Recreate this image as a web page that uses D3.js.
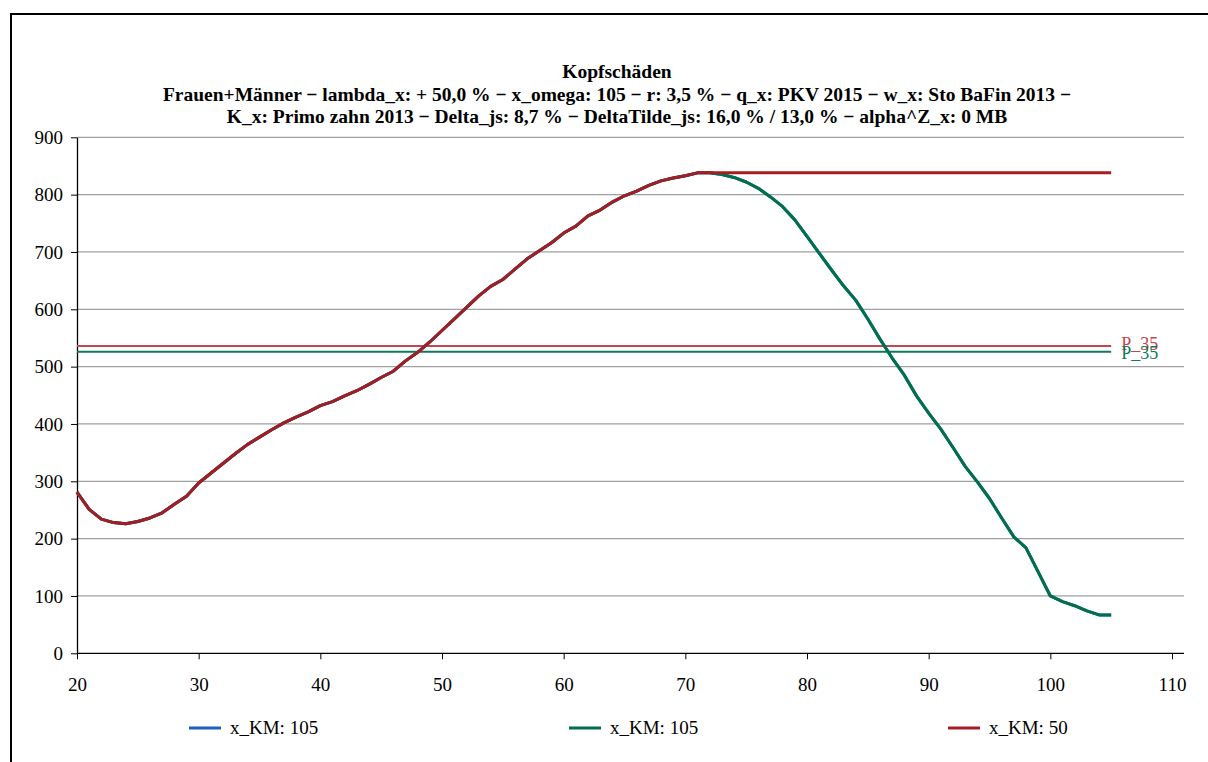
<!DOCTYPE html>
<html>
<head>
<meta charset="utf-8">
<script src="https://cdn.jsdelivr.net/npm/d3@7"></script>
<style>
    body { margin: 0; background: #fff; }
    svg text { font-family: "Liberation Serif", "Times New Roman", serif; }
</style>
</head>
<body>
<div id="chart"></div>
<script>
// Alter x (20..105)
const ages = [20, 21, 22, 23, 24, 25, 26, 27, 28, 29, 30, 31, 32, 33, 34, 35, 36, 37, 38, 39,
    40, 41, 42, 43, 44, 45, 46, 47, 48, 49, 50, 51, 52, 53, 54, 55, 56, 57, 58, 59,
    60, 61, 62, 63, 64, 65, 66, 67, 68, 69, 70, 71, 72, 73, 74, 75, 76, 77, 78, 79,
    80, 81, 82, 83, 84, 85, 86, 87, 88, 89, 90, 91, 92, 93, 94, 95, 96, 97, 98, 99,
    100, 101, 102, 103, 104, 105];

// x_KM: 105 (blau und gruen liegen uebereinander)
const km105 = [281, 251, 234, 228, 226, 230, 236, 245, 260, 274, 297, 314, 331, 348, 364, 377, 390, 402, 412, 421,
    432, 439, 449, 458, 469, 481, 492, 510, 525, 543, 563, 583, 603, 623, 640, 652, 670, 688, 702, 716,
    733, 745, 763, 773, 787, 798, 806, 816, 824, 829, 833, 838, 838, 835, 830, 822, 811, 796, 779, 756,
    727, 698, 669, 641, 616, 583, 548, 515, 485, 449, 419, 391, 359, 326, 299, 270, 236, 203, 184, 142,
    100, 90, 83, 74, 67, 67];

// x_KM: 50
const km50 = [281, 251, 234, 228, 226, 230, 236, 245, 260, 274, 297, 314, 331, 348, 364, 377, 390, 402, 412, 421,
    432, 439, 449, 458, 469, 481, 492, 510, 525, 543, 563, 583, 603, 623, 640, 652, 670, 688, 702, 716,
    733, 745, 763, 773, 787, 798, 806, 816, 824, 829, 833, 838, 838, 838, 838, 838, 838, 838, 838, 838,
    838, 838, 838, 838, 838, 838, 838, 838, 838, 838, 838, 838, 838, 838, 838, 838, 838, 838, 838, 838,
    838, 838, 838, 838, 838, 838];

// P_35 Linien
const p35Names = ["P_35", "P_35"];
const p35Values = [536, 526];

const seriesNames = ["x_KM: 105", "x_KM: 105", "x_KM: 50"];
const seriesColors = ["#1f5fbf", "#00704a", "#a61c25"];

const yTicks = [0, 100, 200, 300, 400, 500, 600, 700, 800, 900];
const xTicks = [20, 30, 40, 50, 60, 70, 80, 90, 100, 110];

const titleLines = [
    "Kopfschäden",
    "Frauen+Männer − lambda_x: + 50,0 % − x_omega: 105 − r: 3,5 % − q_x: PKV 2015 − w_x: Sto BaFin 2013 −",
    "K_x: Primo zahn 2013 − Delta_js: 8,7 % − DeltaTilde_js: 16,0 % / 13,0 % − alpha^Z_x: 0 MB"
];

const serif = "'Liberation Serif', 'Times New Roman', serif";

const render = () => {
    const width = 1208;
    const height = 762;

    const svg = d3.select("#chart").append("svg")
        .attr("width", width)
        .attr("height", height)
        .attr("font-family", serif);

    // Rahmen
    svg.append("rect")
        .attr("x", 11).attr("y", 14)
        .attr("width", 1300).attr("height", 900)
        .attr("fill", "none")
        .attr("stroke", "#000")
        .attr("stroke-width", 2);

    const x = d3.scaleLinear().domain([20, 110]).range([77, 1172]);
    const y = d3.scaleLinear().domain([0, 900]).range([653.3, 137.3]);
    const plotRight = 1184;

    // Gitter
    svg.append("g")
        .selectAll("line")
        .data(yTicks.filter(d => d > 0))
        .join("line")
        .attr("x1", x(20)).attr("x2", plotRight)
        .attr("y1", d => y(d)).attr("y2", d => y(d))
        .attr("stroke", "#a0a0a0")
        .attr("stroke-width", 1.3);

    // Achsen
    const yAxis = svg.append("g")
        .attr("transform", `translate(${x(20)},0)`)
        .call(d3.axisLeft(y).tickValues(yTicks).tickSize(6).tickPadding(8).tickSizeOuter(0))
        .attr("font-family", serif)
        .attr("font-size", 19);
    yAxis.select(".domain").attr("stroke", "#000").attr("stroke-width", 1.3);
    yAxis.selectAll("text").attr("fill", "#000");

    const xAxis = svg.append("g")
        .attr("transform", `translate(0,${y(0)})`)
        .call(d3.axisBottom(x).tickValues(xTicks).tickSize(6).tickPadding(18).tickSizeOuter(0))
        .attr("font-family", serif)
        .attr("font-size", 19);
    xAxis.select(".domain").attr("d", `M${x(20)},0H${plotRight}`)
        .attr("stroke", "#000").attr("stroke-width", 1.3);
    xAxis.selectAll("text").attr("fill", "#000");

    // P_35 Linien (Beschriftungen liegen wie im Original fast uebereinander)
    const pColors = ["#c0464f", "#0f7a55"];
    p35Values.forEach((v, i) => {
        svg.append("line")
            .attr("x1", x(20)).attr("x2", x(105))
            .attr("y1", y(v)).attr("y2", y(v))
            .attr("stroke", pColors[i])
            .attr("stroke-width", 2);
        svg.append("text")
            .attr("x", x(105) + 10)
            .attr("y", y(v) + (i == 0 ? 4 : 7))
            .attr("fill", pColors[i])
            .attr("font-size", 18)
            .text(p35Names[i]);
    });

    const line = d3.line()
        .x((d, i) => x(ages[i]))
        .y(d => y(d));

    // blau, gruen, dann rot oben
    const series = [km105, km105, km50];
    series.forEach((s, i) => {
        svg.append("path")
            .datum(s)
            .attr("d", line)
            .attr("fill", "none")
            .attr("stroke", seriesColors[i])
            .attr("stroke-width", 3)
            .attr("stroke-linejoin", "round");
    });

    // Titel
    svg.append("g")
        .selectAll("text")
        .data(titleLines)
        .join("text")
        .attr("x", 617)
        .attr("y", (d, i) => 78 + i * 22.5)
        .attr("text-anchor", "middle")
        .attr("font-weight", "bold")
        .attr("font-size", 19.5)
        .text(d => d);

    // Legende
    const legX = [189, 569, 948];
    const leg = svg.append("g")
        .selectAll("g")
        .data(seriesNames)
        .join("g")
        .attr("transform", (d, i) => `translate(${legX[i]},728)`);
    leg.append("line")
        .attr("x1", 0).attr("x2", 32)
        .attr("stroke", (d, i) => seriesColors[i])
        .attr("stroke-width", 3);
    leg.append("text")
        .attr("x", 41)
        .attr("y", 6)
        .attr("font-size", 19)
        .text(d => d);
}

render();
</script>
</body>
</html>
